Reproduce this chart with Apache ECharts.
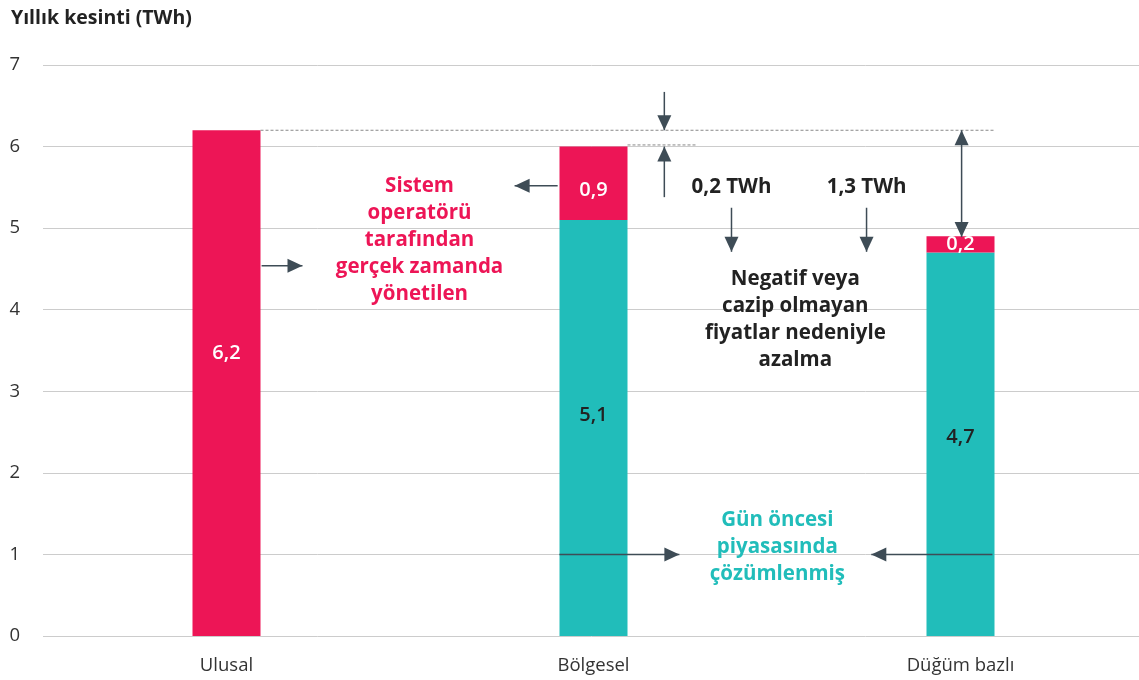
<!DOCTYPE html>
<html>
<head>
<meta charset="utf-8">
<script src="https://cdn.jsdelivr.net/npm/echarts@6/dist/echarts.min.js"></script>
<style>
  html, body { margin: 0; padding: 0; background: #fff; }
  #main { width: 1139px; height: 680px; }
</style>
</head>
<body>
<div id="main"></div>
<script>
  var categories = ['Ulusal', 'Bölgesel', 'Düğüm bazlı'];
  // gün öncesi piyasasında çözümlenmiş
  var dayAhead = ['-', 5.1, 4.7];
  // sistem operatörü tarafından gerçek zamanda yönetilen
  var realTime = [6.2, 0.9, 0.2];
  var yTicks = [0, 1, 2, 3, 4, 5, 6, 7];

  var RED = '#ED1556';
  var TEAL = '#21BDBA';
  var ARROW = '#3E4C56';
  var DARK = '#222222';
  var FONT = '"Open Sans", Lato, sans-serif';

  function fmt(v) { return String(v).replace('.', ','); }

  var chart = echarts.init(document.getElementById('main'));

  // label offsets per bar (teal / red)
  var tealOff = [0, -13, -7];
  var redOff = [-30, 7, 0];

  chart.setOption({
    animation: false,
    title: {
      text: 'Yıllık kesinti (TWh)',
      left: 6, top: 3,
      textStyle: { fontFamily: FONT, fontSize: 19.5, fontWeight: 'bold', color: DARK }
    },
    grid: { left: 43, top: 65, bottom: 44, width: 1101, outerBoundsMode: 'none' },
    xAxis: {
      type: 'category',
      data: categories,
      axisLine: { show: false },
      axisTick: { show: false },
      axisLabel: { margin: 20, fontFamily: FONT, fontSize: 18.5, color: '#333' }
    },
    yAxis: {
      type: 'value',
      min: yTicks[0], max: yTicks[yTicks.length - 1], interval: 1,
      axisLabel: { margin: 23, fontFamily: FONT, fontSize: 18.5, color: '#333' },
      splitLine: { lineStyle: { color: '#cccccc', width: 1 } }
    },
    series: [{
      name: 'Gün öncesi',
      type: 'bar',
      stack: 'total',
      barWidth: 68,
      itemStyle: { color: TEAL },
      data: dayAhead.map(function (v, i) {
        return {
          value: v,
          label: { show: v !== '-', position: 'inside', offset: [0, tealOff[i]],
            formatter: function (p) { return fmt(p.value); },
            fontFamily: FONT, fontSize: 20, fontWeight: 600, color: DARK }
        };
      })
    }, {
      name: 'Gerçek zamanlı',
      type: 'bar',
      stack: 'total',
      barWidth: 68,
      itemStyle: { color: RED },
      data: realTime.map(function (v, i) {
        return {
          value: v,
          label: { show: true, position: 'inside', offset: [0, redOff[i]],
            formatter: function (p) { return fmt(p.value); },
            fontFamily: FONT, fontSize: 20, fontWeight: 600, color: '#fff' }
        };
      })
    }]
  });

  // annotation coordinates in (category index, value) space
  var c0 = chart.convertToPixel({ xAxisIndex: 0 }, categories[0]);
  var c1 = chart.convertToPixel({ xAxisIndex: 0 }, categories[1]);
  var band = c1 - c0;
  function P(ci, v) {
    return [c0 + ci * band, chart.convertToPixel({ yAxisIndex: 0 }, v)];
  }
  var half = 34 / band;

  function head(tip, dir) {
    var L = 15, W = 7;
    var bx = tip[0] - dir[0] * L, by = tip[1] - dir[1] * L;
    return {
      type: 'polygon',
      shape: { points: [tip, [bx - dir[1] * W, by + dir[0] * W], [bx + dir[1] * W, by - dir[0] * W]] },
      style: { fill: ARROW },
      z: 100
    };
  }
  function arrow(a, b, both) {
    var dx = b[0] - a[0], dy = b[1] - a[1];
    var len = Math.sqrt(dx * dx + dy * dy);
    var d = [dx / len, dy / len];
    var els = [{
      type: 'line',
      shape: { x1: a[0], y1: a[1], x2: b[0], y2: b[1] },
      style: { stroke: ARROW, lineWidth: 1.5 },
      z: 100
    }, head(b, d)];
    if (both) els.push(head(a, [-d[0], -d[1]]));
    return els;
  }
  function dashed(a, b) {
    return {
      type: 'line',
      shape: { x1: a[0], y1: a[1], x2: b[0], y2: b[1] },
      style: { stroke: '#888', lineWidth: 1, lineDash: [3, 2] },
      z: 90
    };
  }
  function label(p, txt, color) {
    return {
      type: 'text',
      x: p[0], y: p[1],
      style: {
        text: txt, fill: color, align: 'center', verticalAlign: 'top',
        font: 'bold 20.5px ' + FONT, lineHeight: 27
      },
      z: 100
    };
  }

  var g = [];
  // dashed reference lines
  g.push(dashed(P(half, realTime[0]), P(2 + half, realTime[0])));
  g.push(dashed(P(1 + half, 6.02), P(1.278, 6.02)));
  // 0,2 TWh
  g = g.concat(arrow(P(1.193, 6.67), P(1.193, 6.2)));
  g = g.concat(arrow(P(1.193, 5.38), P(1.193, 6.0)));
  g.push(label(P(1.376, 5.67), '0,2 TWh', DARK));
  g = g.concat(arrow(P(1.376, 5.25), P(1.376, 4.71)));
  // 1,3 TWh
  g.push(label(P(1.744, 5.67), '1,3 TWh', DARK));
  g = g.concat(arrow(P(1.744, 5.25), P(1.744, 4.71)));
  g = g.concat(arrow(P(2.003, 6.2), P(2.003, 4.89), true));
  g.push(label(P(1.55, 4.54), 'Negatif veya\ncazip olmayan\nfiyatlar nedeniyle\nazalma', DARK));
  // real time
  g = g.concat(arrow(P(1 - half - 0.005, 5.52), P(0.785, 5.52)));
  g.push(label(P(0.526, 5.68), 'Sistem\noperatörü\ntarafından\ngerçek zamanda\nyönetilen', RED));
  g = g.concat(arrow(P(half + 0.003, 4.54), P(0.207, 4.54)));
  // day-ahead
  g.push(label(P(1.501, 1.59), 'Gün öncesi\npiyasasında\nçözümlenmiş', TEAL));
  g = g.concat(arrow(P(0.907, 1), P(1.234, 1)));
  g = g.concat(arrow(P(2.087, 1), P(1.757, 1)));

  chart.setOption({ graphic: g });
</script>
</body>
</html>
